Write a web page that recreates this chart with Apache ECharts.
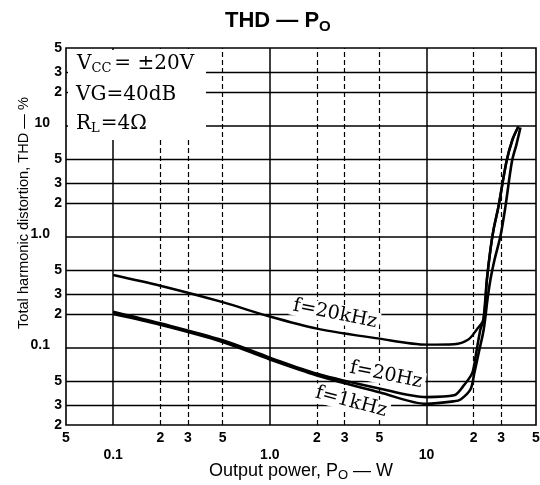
<!DOCTYPE html>
<html><head><meta charset="utf-8">
<script src="https://cdn.jsdelivr.net/npm/echarts@6/dist/echarts.min.js"></script>
<style>html,body{margin:0;padding:0;background:#fff}#c{width:540px;height:485px}</style>
</head><body><div id="c"></div>
<script>
// Tick values and labels
const xTickValues = [0.05, 0.1, 0.2, 0.3, 0.5, 1, 2, 3, 5, 10, 20, 30, 50];
const xTickLabels = ['5', '0.1', '2', '3', '5', '1.0', '2', '3', '5', '10', '2', '3', '5'];
const yTickValues = [0.02, 0.03, 0.05, 0.1, 0.2, 0.3, 0.5, 1, 2, 3, 5, 10, 20, 30, 50];
const yTickLabels = ['2', '3', '5', '0.1', '2', '3', '5', '1.0', '2', '3', '5', '10', '2', '3', '5'];
const decadeLabels = ['0.1', '1.0', '10'];

// f = 20kHz
const power20k = [0.1, 0.2, 0.5, 1, 2, 5, 10, 15, 18.5, 21, 23.1, 24.3, 25.6, 26.8, 28.8, 32.4, 35.4, 38.6];
const thd20k   = [0.45, 0.36, 0.256, 0.19, 0.148, 0.12, 0.106, 0.107, 0.118, 0.146, 0.179, 0.41, 0.764, 1.156, 1.86, 4.74, 7.48, 9.8];
// f = 20Hz
const power20 = [0.1, 0.2, 0.5, 1, 2, 5, 10, 15, 17.2, 19.6, 20.8, 22.1, 23.1, 24.3, 25.6, 26.8, 28.8, 32.4, 35.4, 38.6];
const thd20   = [0.21, 0.165, 0.116, 0.081, 0.058, 0.0427, 0.0357, 0.037, 0.045, 0.059, 0.091, 0.146, 0.179, 0.41, 0.764, 1.156, 1.86, 4.74, 7.48, 9.8];
// f = 1kHz
const power1k = [0.1, 0.2, 0.5, 1, 2, 5, 10, 15, 16.5, 19.1, 20.2, 21.6, 23.2, 24.5, 25.6, 27.2, 29.7, 31.9, 35.1, 37.5, 39.8];
const thd1k   = [0.2, 0.16, 0.112, 0.078, 0.056, 0.0395, 0.031, 0.0327, 0.034, 0.042, 0.059, 0.091, 0.146, 0.27, 0.41, 0.62, 1.02, 1.86, 4.74, 6.74, 9.6];

function zip(a, b) { return a.map((v, i) => [v, b[i]]); }
function lookup(vals, labs, v) {
  for (let i = 0; i < vals.length; i++) {
    if (Math.abs(Math.log10(v) - Math.log10(vals[i])) < 1e-4) return labs[i];
  }
  return '';
}
function fmt(vals, labs) {
  return function (v) {
    const l = lookup(vals, labs, v);
    if (!l) return '';
    return decadeLabels.indexOf(l) >= 0 ? '{d|' + l + '}' : '{n|' + l + '}';
  };
}
function isDecade(v) { return Math.abs(Math.log10(v) - Math.round(Math.log10(v))) < 1e-6; }

const gridLineData = [];
xTickValues.slice(1, -1).forEach(v => gridLineData.push({
  xAxis: v, lineStyle: { color: '#000', width: isDecade(v) ? 1.5 : 1.2, type: isDecade(v) ? 'solid' : [5, 3] }
}));
yTickValues.slice(1, -1).forEach(v => gridLineData.push({
  yAxis: v, lineStyle: { color: '#000', width: isDecade(v) ? 1.6 : 1.3, type: 'solid' }
}));

const serif = '"DejaVu Serif", "Liberation Serif", serif';
const sans = '"Liberation Sans", Arial, sans-serif';

const chart = echarts.init(document.getElementById('c'), null, { renderer: 'canvas' });
chart.setOption({
  backgroundColor: '#fff',
  animation: false,
  title: {
    text: '{a|THD — P}{b|O}',
    left: 220, top: 3,
    textStyle: {
      rich: {
        a: { fontFamily: sans, fontWeight: 'bold', fontSize: 22, color: '#000' },
        b: { fontFamily: sans, fontWeight: 'bold', fontSize: 15, color: '#000', padding: [11, 0, 0, 0] }
      }
    }
  },
  grid: { left: 66, top: 48, width: 470, height: 377, containLabel: false, outerBoundsMode: 'none',
          show: true, borderColor: '#000', borderWidth: 1.6, backgroundColor: 'transparent' },
  xAxis: {
    type: 'log', logBase: 10, min: 0.05, max: 50,
    name: '{a|Output power, P}{b|O}{a| — W}',
    nameLocation: 'middle', nameGap: 35, nameMoveOverlap: false,
    nameTextStyle: {
      rich: {
        a: { fontFamily: sans, fontSize: 18, color: '#000' },
        b: { fontFamily: sans, fontSize: 13, color: '#000', padding: [9, 0, 0, 0] }
      }
    },
    axisLine: { show: false }, axisTick: { show: false }, splitLine: { show: false }, minorSplitLine: { show: false },
    axisLabel: {
      customValues: xTickValues,
      showMinLabel: true, showMaxLabel: true, hideOverlap: false,
      margin: 6,
      formatter: fmt(xTickValues, xTickLabels),
      rich: {
        n: { fontFamily: sans, fontWeight: 'bold', fontSize: 14, color: '#000' },
        d: { fontFamily: sans, fontWeight: 'bold', fontSize: 14, color: '#000', padding: [17, 0, 0, 0] }
      }
    }
  },
  yAxis: {
    type: 'log', logBase: 10, min: 0.02, max: 50,
    name: 'Total harmonic distortion, THD — %',
    nameLocation: 'middle', nameGap: 35, nameRotate: 90, nameMoveOverlap: false,
    nameTextStyle: { fontFamily: sans, fontSize: 14.6, color: '#000', padding: [0, 0, 0, 47] },
    axisLine: { show: false }, axisTick: { show: false }, splitLine: { show: false }, minorSplitLine: { show: false },
    axisLabel: {
      customValues: yTickValues,
      showMinLabel: true, showMaxLabel: true, hideOverlap: false,
      margin: 4,
      formatter: fmt(yTickValues, yTickLabels),
      rich: {
        n: { fontFamily: sans, fontWeight: 'bold', fontSize: 14, color: '#000' },
        d: { fontFamily: sans, fontWeight: 'bold', fontSize: 14, color: '#000', padding: [0, 12, 4, 0] }
      }
    }
  },
  graphic: [
    { type: 'rect', z: 10, shape: { x: 68, y: 50, width: 138, height: 90 }, style: { fill: '#fff' } },
    { type: 'text', z: 11, x: 77, y: 64, style: {
      text: '{a|V}{s|CC}{a|= ±20V}', verticalAlign: 'middle',
      rich: { a: { fontFamily: serif, fontSize: 20, fill: '#000' }, s: { fontFamily: serif, fontSize: 13, fill: '#000', padding: [9, 3, 0, 0] } }
    } },
    { type: 'text', z: 11, x: 76, y: 95, style: {
      text: 'VG=40dB', verticalAlign: 'middle', font: '20px ' + serif, fill: '#000'
    } },
    { type: 'text', z: 11, x: 76, y: 124, style: {
      text: '{a|R}{s|L}{a|=4Ω}', verticalAlign: 'middle',
      rich: { a: { fontFamily: serif, fontSize: 20, fill: '#000' }, s: { fontFamily: serif, fontSize: 13, fill: '#000', padding: [9, 1, 0, 0] } }
    } },
    { type: 'text', z: 11, x: 335, y: 314, rotation: -0.2, style: {
      text: 'f=20kHz', align: 'center', verticalAlign: 'middle', font: '19px ' + serif, fill: '#000',
      backgroundColor: '#fff', padding: [0, 3]
    } },
    { type: 'text', z: 11, x: 386, y: 375, rotation: -0.2, style: {
      text: 'f=20Hz', align: 'center', verticalAlign: 'middle', font: '19px ' + serif, fill: '#000',
      backgroundColor: '#fff', padding: [0, 3]
    } },
    { type: 'text', z: 11, x: 351, y: 402, rotation: -0.26, style: {
      text: 'f=1kHz', align: 'center', verticalAlign: 'middle', font: '19px ' + serif, fill: '#000',
      backgroundColor: '#fff', padding: [0, 3]
    } }
  ],
  series: [
    { type: 'line', data: [], z: 1, silent: true,
      markLine: { silent: true, symbol: 'none', label: { show: false }, data: gridLineData, animation: false } },
    { name: 'f=20kHz', type: 'line', z: 5, data: zip(power20k, thd20k), showSymbol: false, smooth: 0.3,
      lineStyle: { color: '#000', width: 2.4 } },
    { name: 'f=20Hz', type: 'line', z: 5, data: zip(power20, thd20), showSymbol: false, smooth: 0.3,
      lineStyle: { color: '#000', width: 2.6 } },
    { name: 'f=1kHz', type: 'line', z: 5, data: zip(power1k, thd1k), showSymbol: false, smooth: 0.3,
      lineStyle: { color: '#000', width: 2.6 } }
  ]
});
</script></body></html>
